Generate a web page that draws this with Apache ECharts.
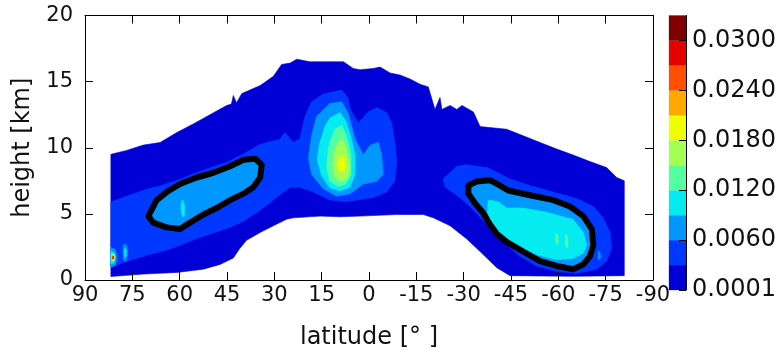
<!DOCTYPE html>
<html><head><meta charset="utf-8">
<script src="https://cdn.jsdelivr.net/npm/echarts@6/dist/echarts.min.js"></script>
<style>html,body{margin:0;padding:0;background:#fff}#c{width:780px;height:355px}</style>
</head><body><div id="c"></div>
<script>
// ---- data ----
const levels = [0.0001,0.003,0.006,0.009,0.012,0.015,0.018,0.021,0.024,0.027,0.030,0.033];
const cbTickIdx = [0,2,4,6,8,10];
const cbLabels = ['0.0001','0.0060','0.0120','0.0180','0.0240','0.0300'];
const bandColors = ['#0000d6','#0038ff','#0098ff','#05ecf0','#55ffa0','#a4ff53','#eeff00','#ffa800','#ff5000','#e60000','#800000'];

// region >= 0.0001 (lat, height km)
const envelope = [[81.8,9.5],[76.8,9.8],[71.5,10.2],[66.2,10.4],[60.9,11.15],[55.7,11.8],[50.4,12.5],[45.1,13.2],[43.6,13.3],[43,13.95],[42,13.4],[40.3,14.1],[34.5,14.7],[30.3,15.4],[27.7,16.3],[25,16.4],[22.9,16.7],[18.7,16.5],[13.4,16.5],[8.1,16.5],[5,16.0],[2.85,15.9],[-1.4,16.0],[-3.5,16.1],[-6.7,15.65],[-9.8,15.5],[-13,15.2],[-16.2,14.8],[-18.8,14.6],[-20.9,12.9],[-22.5,13.8],[-23.1,12.9],[-25.7,13.2],[-27.8,12.9],[-29.5,13.2],[-33.1,12.7],[-35.2,11.6],[-43.6,11.4],[-48.9,10.9],[-54.2,10.4],[-59.5,9.9],[-64.7,9.45],[-70,8.96],[-75.3,8.5],[-78.5,7.75],[-80.9,7.5],[-80.9,0.33],[-64.7,0.28],[-44.7,0.33],[-40.5,0.93],[-35.2,2.15],[-31,3.1],[-25.7,4.1],[-20.4,4.7],[-17.2,4.95],[-8.8,4.95],[2.85,4.83],[9.2,4.78],[15.5,4.83],[24,4.7],[26.1,4.6],[30.3,4.1],[34.5,3.6],[38.8,3.0],[40.9,2.4],[43,1.66],[47.2,1.18],[52.5,0.82],[60.9,0.57],[71.5,0.45],[81.8,0.26]];

// region >= 0.003, northern band joined with tropical plume
const nhBand = [[81.8,5.9],[76,6.4],[70,6.9],[65,7.2],[60,7.6],[55,8.1],[50,8.5],[45,8.9],[40,9.5],[35,10.2],[31,10.5],[28.5,10.6],[26.6,11.15],[24.0,10.42],[21.9,10.67],[20.3,12.37],[18.2,13.47],[14.5,14.07],[8.7,14.37],[6.8,13.83],[5.8,12.86],[3.4,11.88],[0.2,12.73],[-2.6,13.05],[-5.6,12.66],[-7.2,11.88],[-8.2,10.42],[-8.8,8.96],[-8.2,7.5],[-5.6,6.65],[-1.4,6.24],[7.1,5.92],[12.4,6.05],[17.6,6.65],[21.9,7.02],[25,7.0],[28,6.5],[31,5.9],[35,5.2],[40,4.4],[45,3.9],[50,3.5],[55,3.1],[60,2.6],[65,2.2],[70,1.9],[74,1.6],[78,1.3],[81.8,1.0]];
// region >= 0.003, southern
const shRing = [[-23.5,7.63],[-27.8,8.6],[-30.9,8.72],[-37.8,8.48],[-44.7,7.63],[-51.0,7.14],[-58.4,6.65],[-65.8,6.17],[-71.1,5.56],[-74.2,4.71],[-76.4,3.61],[-76.9,2.4],[-75.3,1.42],[-72.1,0.81],[-65.8,0.5],[-59.5,0.64],[-53.1,1.06],[-47.8,1.79],[-42.6,2.88],[-37.3,4.22],[-32.0,5.56],[-27.8,6.41],[-24.1,7.02]];

// black contour loops (also bound the >= 0.006 areas)
const nhLoop = [[69.4,5.07],[67.3,6.04],[64.1,6.65],[59.9,7.26],[54.6,7.75],[49.3,8.11],[44.0,8.6],[39.8,9.09],[36.1,9.16],[34.0,8.72],[34.5,7.75],[36.7,7.02],[39.8,6.53],[44.0,6.04],[48.3,5.44],[52.5,4.95],[56.7,4.34],[59.9,3.85],[64.1,3.98],[68.4,4.34],[69.9,4.83]];
const shLoop = [[-31.5,7.14],[-34.1,7.45],[-38.3,7.55],[-41.0,7.21],[-44.1,6.77],[-51.0,6.41],[-58.4,6.04],[-63.7,5.56],[-67.9,4.83],[-70.6,3.85],[-71.1,2.64],[-70.0,1.79],[-67.9,1.18],[-64.7,0.81],[-59.5,1.06],[-54.2,1.42],[-48.9,2.15],[-43.6,2.88],[-40.5,3.49],[-38.3,4.22],[-36.2,5.07],[-33.6,5.8],[-31.5,6.53]];

// tropical plume levels
const plume2 = [[18.2,10.91],[16.6,12.37],[12.4,13.34],[8.7,13.47],[6.6,12.61],[4.4,10.67],[1.8,9.45],[-0.3,10.18],[-3.0,10.42],[-4.0,9.45],[-4.5,7.99],[-2.4,7.46],[1.8,7.26],[6.0,6.53],[10.2,6.34],[14.5,6.9],[18.2,7.99],[19.2,9.21]];
const plume3 = [[13.9,11.64],[12.4,12.25],[9.2,12.66],[7.3,12.0],[5.8,10.91],[4.4,9.45],[4.4,7.99],[6.0,7.02],[9.2,6.73],[12.4,6.97],[15.0,7.87],[16.4,9.09],[15.7,10.3]];
const plume4 = [[10.8,11.4],[8.7,11.69],[7.1,10.91],[5.7,9.45],[5.7,7.99],[7.3,7.26],[9.7,7.07],[12.4,7.46],[13.4,8.48],[12.9,9.94],[11.8,10.79]];
const plume5 = [[9.7,10.42],[8.3,10.67],[7.1,9.82],[6.2,8.72],[6.6,7.75],[8.7,7.46],[10.8,7.75],[11.5,8.72],[11.0,9.7]];
const plume6 = [[9.2,9.26],[8.1,9.45],[7.4,8.72],[7.9,8.19],[9.4,8.19],[10.0,8.77]];

// southern core levels
const sh3 = [[-37.8,6.05],[-41.0,5.92],[-43.6,5.44],[-48.9,5.44],[-56.3,5.12],[-64.7,4.58],[-67.9,3.61],[-69.0,2.64],[-67.9,2.03],[-64.7,1.62],[-59.5,1.54],[-53.1,1.91],[-46.8,2.52],[-42.0,3.37],[-38.9,4.22],[-37.5,5.19]];
const sh4a = [[-59.2,3.55],[-59.9,3.3],[-60.0,2.85],[-59.6,2.7],[-59.1,2.95]];
const sh4b = [[-62.3,3.45],[-62.9,3.3],[-63.1,2.6],[-62.8,2.4],[-62.3,2.65]];
const sh2speck = [[-72.7,2.2],[-73.2,2.1],[-73.4,1.7],[-73.0,1.5],[-72.6,1.7]];

// small northern spots
const nh3spot = [[59.1,6.05],[58.4,5.6],[58.5,4.9],[59.0,4.75],[59.5,5.1],[59.6,5.7]];
const hot2 = [[81.8,2.45],[80.4,2.3],[79.9,1.7],[80.4,1.1],[81.8,0.95]];
const hot3 = [[81.8,2.2],[80.6,2.05],[80.3,1.7],[80.6,1.35],[81.8,1.2]];
const hot6 = [[81.5,1.97],[80.8,1.9],[80.65,1.7],[80.8,1.5],[81.5,1.45]];
const hot8 = [[81.3,1.85],[80.95,1.8],[80.85,1.7],[80.95,1.6],[81.3,1.56]];
const hot9 = [[81.2,1.78],[81.0,1.75],[80.98,1.68],[81.05,1.62],[81.2,1.63]];
const spotB2 = [[77.9,2.6],[77.3,2.75],[76.6,2.5],[76.5,1.9],[77.2,1.4],[77.9,1.6]];
const spotB3 = [[77.6,2.3],[77.2,2.4],[76.9,2.2],[77.0,1.8],[77.4,1.75]];

// ---- build ----
const polys = [
  {lv:0, pts:envelope},
  {lv:1, pts:nhBand},{lv:1, pts:shRing},
  {lv:2, pts:nhLoop},{lv:2, pts:shLoop},{lv:2, pts:plume2},{lv:2, pts:hot2},{lv:2, pts:spotB2},{lv:2, pts:sh2speck},
  {lv:3, pts:plume3},{lv:3, pts:sh3},{lv:3, pts:nh3spot},{lv:3, pts:hot3},{lv:3, pts:spotB3},
  {lv:4, pts:plume4},{lv:4, pts:sh4a},{lv:4, pts:sh4b},
  {lv:5, pts:plume5},
  {lv:6, pts:plume6},{lv:6, pts:hot6},
  {lv:8, pts:hot8},
  {lv:9, pts:hot9}
];
const loops = [nhLoop, shLoop];

const font = 'DejaVu Sans';
const chart = echarts.init(document.getElementById('c'), null, {renderer:'canvas'});
const tickStyle = {show:true, inside:true, length:8, lineStyle:{color:'#000', width:1}};
const lineStyle = {show:true, onZero:false, lineStyle:{color:'#000', width:1}};

chart.setOption({
  animation:false,
  backgroundColor:'#fff',
  grid:[
    {left:85, top:15.5, width:568, height:274},
    {left:669, top:15.5, width:17, height:274.5}
  ],
  xAxis:[
    {gridIndex:0, type:'value', min:-90, max:90, interval:15, inverse:true, position:'bottom', z:10,
     axisLine:lineStyle, axisTick:tickStyle, splitLine:{show:false},
     axisLabel:{fontFamily:font, fontSize:21, color:'#111', margin:5, formatter:v=>String(v)},
     name:'latitude [° ]', nameLocation:'middle', nameGap:46,
     nameTextStyle:{fontFamily:font, fontSize:24, color:'#111'}},
    {gridIndex:0, type:'value', min:-90, max:90, interval:15, inverse:true, position:'top', z:10,
     axisLine:lineStyle, axisTick:tickStyle, splitLine:{show:false}, axisLabel:{show:false}},
    {gridIndex:1, type:'value', min:0, max:1, show:false}
  ],
  yAxis:[
    {gridIndex:0, type:'value', min:0, max:20, interval:5, position:'left', z:10,
     axisLine:lineStyle, axisTick:tickStyle, splitLine:{show:false},
     axisLabel:{fontFamily:font, fontSize:21, color:'#111', margin:12},
     name:'height [km]', nameLocation:'middle', nameGap:50,
     nameTextStyle:{fontFamily:font, fontSize:24, color:'#111'}},
    {gridIndex:0, type:'value', min:0, max:20, interval:5, position:'right', z:10,
     axisLine:lineStyle, axisTick:tickStyle, splitLine:{show:false}, axisLabel:{show:false}},
    {gridIndex:1, type:'value', min:0, max:11, position:'right', z:10,
     axisLine:lineStyle,
     axisTick:{show:true, inside:true, length:7, customValues:cbTickIdx, lineStyle:{color:'#000', width:1}},
     splitLine:{show:false},
     axisLabel:{customValues:cbTickIdx, fontFamily:font, fontSize:24, color:'#111', margin:6,
       formatter:v=>cbLabels[cbTickIdx.indexOf(Math.round(v))]}}
  ],
  series:[
    {type:'custom', xAxisIndex:0, yAxisIndex:0, clip:true, z:2,
     data: polys.map((p,i)=>[p.pts[0][0], p.pts[0][1], i]),
     renderItem:(params, api)=>{
       const p = polys[params.dataIndex];
       const c = bandColors[p.lv];
       return {type:'polygon', shape:{points:p.pts.map(q=>api.coord(q))},
               style:{fill:c, stroke:c, lineWidth:0.6}};
     }},
    {type:'custom', xAxisIndex:0, yAxisIndex:0, clip:true, z:3,
     data: loops.map((l,i)=>[l[0][0], l[0][1], i]),
     renderItem:(params, api)=>{
       const l = loops[params.dataIndex];
       return {type:'polygon', shape:{points:l.map(q=>api.coord(q))},
               style:{fill:'none', stroke:'#000', lineWidth:6, lineJoin:'round'}};
     }},
    {type:'custom', xAxisIndex:2, yAxisIndex:2, z:2,
     data: bandColors.map((c,i)=>[0, i, i]),
     renderItem:(params, api)=>{
       const i = params.dataIndex;
       const a = api.coord([0, i]);
       const b = api.coord([1, i+1]);
       return {type:'rect', shape:{x:a[0], y:b[1], width:b[0]-a[0], height:a[1]-b[1]},
               style:{fill:bandColors[i], stroke:bandColors[i], lineWidth:0.3}};
     }}
  ]
});
</script></body></html>
